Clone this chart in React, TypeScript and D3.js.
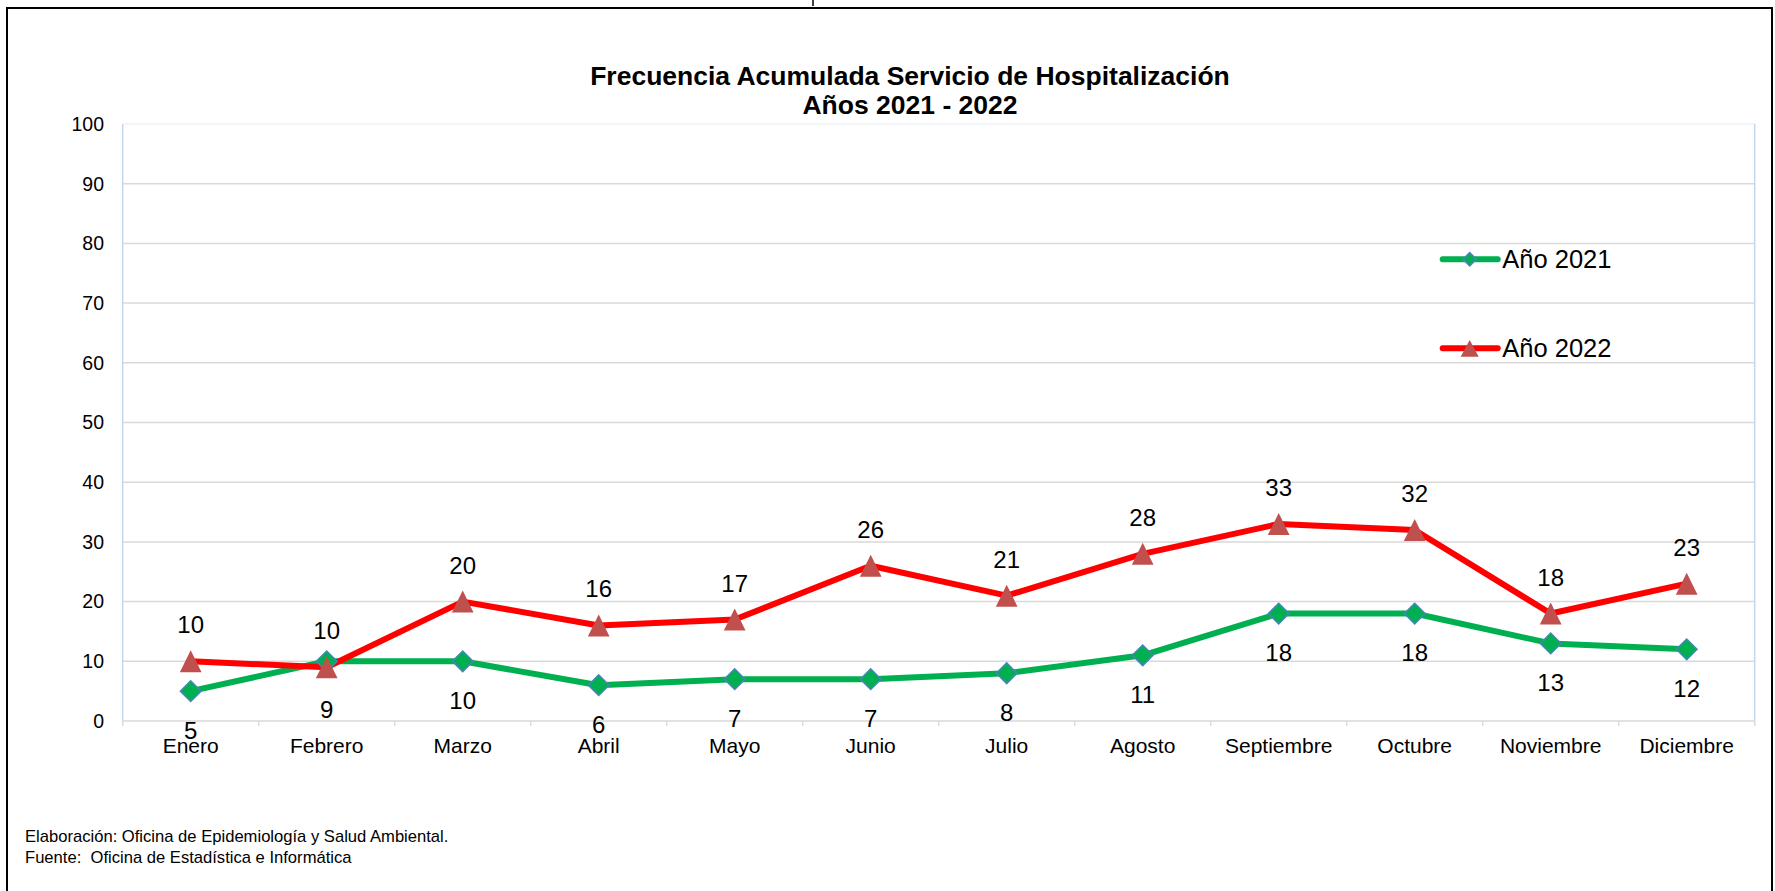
import * as d3 from "d3";
import React from "react";

const months = [
  "Enero",
  "Febrero",
  "Marzo",
  "Abril",
  "Mayo",
  "Junio",
  "Julio",
  "Agosto",
  "Septiembre",
  "Octubre",
  "Noviembre",
  "Diciembre",
];

const anio2021 = [5, 10, 10, 6, 7, 7, 8, 11, 18, 18, 13, 12];
const anio2022 = [10, 9, 20, 16, 17, 26, 21, 28, 33, 32, 18, 23];

const yTicks = [0, 10, 20, 30, 40, 50, 60, 70, 80, 90, 100];

const seriesNames = ["Año 2021", "Año 2022"];

const titleLines = [
  "Frecuencia Acumulada Servicio de Hospitalización",
  "Años 2021 - 2022",
];

const footerLines = [
  "Elaboración: Oficina de Epidemiología y Salud Ambiental.",
  "Fuente:  Oficina de Estadística e Informática",
];

const FONT = "'Liberation Sans', Arial, Helvetica, sans-serif";
const GREEN = "#00b050";
const RED = "#ff0000";
const DIAMOND_STROKE = "#4f81bd";
const TRIANGLE_FILL = "#c0504d";

// triangle marker, centred on (0,0)
const trianglePath = (w: number, h: number): string =>
  (d3.line()([
    [-w / 2, h / 2],
    [0, -h / 2],
    [w / 2, h / 2],
  ]) as string) + "Z";

const App = (): React.ReactElement => {
  const chartRef = React.useRef<SVGSVGElement>(null);

  const width = 1775;
  const height = 891;
  const margin = { top: 124, right: 20.3, bottom: 170, left: 122.7 };

  React.useEffect(() => {
    const svg = d3.select(chartRef.current);
    svg.selectAll("*").remove();

    const xScale = d3
      .scaleBand<string>()
      .domain(months)
      .range([margin.left, width - margin.right]);
    const yScale = d3
      .scaleLinear()
      .domain([0, 100])
      .range([height - margin.bottom, margin.top]);
    const cx = (i: number) => (xScale(months[i]) as number) + xScale.bandwidth() / 2;

    // outer frame
    svg
      .append("rect")
      .attr("x", 7)
      .attr("y", 8)
      .attr("width", 1765)
      .attr("height", 1000)
      .attr("fill", "white")
      .attr("stroke", "black")
      .attr("stroke-width", 2);

    // clipped descender of a heading above the frame
    svg
      .append("line")
      .attr("x1", 813)
      .attr("x2", 813)
      .attr("y1", 0)
      .attr("y2", 6)
      .attr("stroke", "black")
      .attr("stroke-width", 1.5);

    // title
    svg
      .append("g")
      .selectAll("text")
      .data(titleLines)
      .join("text")
      .attr("x", 910)
      .attr("y", (_, i) => 85 + i * 29)
      .attr("text-anchor", "middle")
      .attr("font-family", FONT)
      .attr("font-weight", "bold")
      .attr("font-size", 26.5)
      .text((d) => d);

    // grid
    const grid = svg.append("g");
    grid
      .selectAll("line")
      .data(yTicks.filter((t) => t > 0))
      .join("line")
      .attr("x1", margin.left)
      .attr("x2", width - margin.right)
      .attr("y1", (d) => yScale(d))
      .attr("y2", (d) => yScale(d))
      .attr("stroke", (d) => (d === 100 ? "#eef2f8" : "#d9d9d9"))
      .attr("stroke-width", 1.5);

    // plot area sides
    [margin.left, width - margin.right].forEach((xPos) => {
      svg
        .append("line")
        .attr("x1", xPos)
        .attr("x2", xPos)
        .attr("y1", yScale(100))
        .attr("y2", yScale(0))
        .attr("stroke", "#c5d7ee")
        .attr("stroke-width", 1.5);
    });

    // y axis labels
    svg
      .append("g")
      .selectAll("text")
      .data(yTicks)
      .join("text")
      .attr("x", margin.left - 18.7)
      .attr("y", (d) => yScale(d))
      .attr("dy", "0.35em")
      .attr("text-anchor", "end")
      .attr("font-family", FONT)
      .attr("font-size", 19.5)
      .text((d) => d);

    // x axis
    const xAxisG = svg.append("g");
    xAxisG
      .append("line")
      .attr("x1", margin.left)
      .attr("x2", width - margin.right)
      .attr("y1", yScale(0))
      .attr("y2", yScale(0))
      .attr("stroke", "#d9d9d9")
      .attr("stroke-width", 1.5);
    xAxisG
      .selectAll("line.tick")
      .data([...months.map((m) => xScale(m) as number), width - margin.right])
      .join("line")
      .attr("class", "tick")
      .attr("x1", (d) => d)
      .attr("x2", (d) => d)
      .attr("y1", yScale(0))
      .attr("y2", yScale(0) + 5)
      .attr("stroke", "#d9d9d9")
      .attr("stroke-width", 1.5);
    xAxisG
      .selectAll("text")
      .data(months)
      .join("text")
      .attr("x", (_, i) => cx(i))
      .attr("y", yScale(0) + 31.7)
      .attr("text-anchor", "middle")
      .attr("font-family", FONT)
      .attr("font-size", 21)
      .text((d) => d);

    const line = d3
      .line<number>()
      .x((_, i) => cx(i))
      .y((d) => yScale(d));

    // series lines
    svg
      .append("path")
      .datum(anio2021)
      .attr("fill", "none")
      .attr("stroke", GREEN)
      .attr("stroke-width", 6)
      .attr("stroke-linejoin", "round")
      .attr("d", line);
    svg
      .append("path")
      .datum(anio2022)
      .attr("fill", "none")
      .attr("stroke", RED)
      .attr("stroke-width", 6)
      .attr("stroke-linejoin", "round")
      .attr("d", line);

    const diamond = d3.symbol(d3.symbolSquare, 214)() as string;
    const diamondSmall = d3.symbol(d3.symbolSquare, 90)() as string;

    svg
      .append("g")
      .selectAll("path")
      .data(anio2021)
      .join("path")
      .attr("d", diamond)
      .attr("transform", (d, i) => `translate(${cx(i)},${yScale(d)}) rotate(45)`)
      .attr("fill", GREEN)
      .attr("stroke", DIAMOND_STROKE)
      .attr("stroke-width", 1.5);

    svg
      .append("g")
      .selectAll("path")
      .data(anio2022)
      .join("path")
      .attr("d", trianglePath(21.7, 22))
      .attr("transform", (d, i) => `translate(${cx(i)},${yScale(d)})`)
      .attr("fill", TRIANGLE_FILL);

    // data labels: the higher series is labelled above, the lower one below
    const labels = svg
      .append("g")
      .attr("font-family", FONT)
      .attr("font-size", 24)
      .attr("text-anchor", "middle");
    labels
      .selectAll("text.l2021")
      .data(anio2021)
      .join("text")
      .attr("class", "l2021")
      .attr("x", (_, i) => cx(i))
      .attr("y", (d, i) => (d > anio2022[i] ? yScale(d) - 22 : yScale(d) + 47.5))
      .text((d) => d);
    labels
      .selectAll("text.l2022")
      .data(anio2022)
      .join("text")
      .attr("class", "l2022")
      .attr("x", (_, i) => cx(i))
      .attr("y", (d, i) => (d > anio2021[i] ? yScale(d) - 28 : yScale(d) + 51))
      .text((d) => d);

    // legend
    const legend = svg.append("g");
    const legendY = [259.3, 348.3];
    const legendColors = [GREEN, RED];
    seriesNames.forEach((name, i) => {
      const g = legend.append("g").attr("transform", `translate(1442.7, ${legendY[i]})`);
      g.append("line")
        .attr("x1", 0)
        .attr("x2", 55)
        .attr("stroke", legendColors[i])
        .attr("stroke-width", 6)
        .attr("stroke-linecap", "round");
      if (i === 0) {
        g.append("path")
          .attr("d", diamondSmall)
          .attr("transform", "translate(27,0) rotate(45)")
          .attr("fill", GREEN)
          .attr("stroke", DIAMOND_STROKE)
          .attr("stroke-width", 1.5);
      } else {
        g.append("path")
          .attr("d", trianglePath(18, 16.7))
          .attr("transform", "translate(27,0)")
          .attr("fill", TRIANGLE_FILL);
      }
      g.append("text")
        .attr("x", 59.6)
        .attr("y", 9)
        .attr("font-family", FONT)
        .attr("font-size", 25.5)
        .text(name);
    });

    // footer
    svg
      .append("g")
      .selectAll("text")
      .data(footerLines)
      .join("text")
      .attr("x", 25)
      .attr("y", (_, i) => 842 + i * 21)
      .attr("font-family", FONT)
      .attr("font-size", 16.6)
      .attr("xml:space", "preserve")
      .style("white-space", "pre")
      .text((d) => d);
  }, [margin.bottom, margin.left, margin.right, margin.top]);

  return (
    <div id="chartContainer">
      <svg
        ref={chartRef}
        width={width}
        height={height}
        style={{ position: "absolute", left: 0, top: 0, background: "white" }}
      ></svg>
    </div>
  );
};

export default App;
